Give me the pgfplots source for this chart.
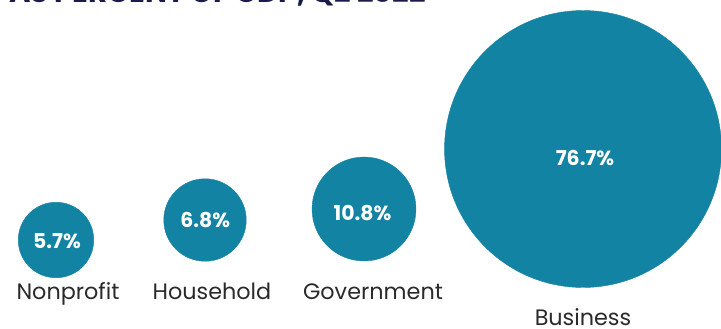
\documentclass[border=0pt]{standalone}
\usepackage{pgfplots}
\pgfplotsset{compat=1.18}
\usepackage{fontspec}
\setmainfont{Poppins}
\definecolor{bub}{HTML}{1383A3}
\definecolor{navy}{HTML}{1B1B4B}
\definecolor{lab}{HTML}{2A2A2A}
\begin{document}
\begin{tikzpicture}[x=1bp,y=1bp]
\path[use as bounding box] (0,0) rectangle (721,328);
\node[anchor=base west, text=navy, font=\bfseries\fontsize{29.2}{29.2}\selectfont, inner sep=0pt] at (9,325.8) {AS PERCENT OF GDP, Q2 2022};
\begin{axis}[at={(0,0)}, anchor=south west, width=721bp, height=328bp, scale only axis,
  xmin=0, xmax=721, ymin=0, ymax=328, y dir=reverse, hide axis, clip=false]
% bubbles: centre x, centre y (pixels from top), value (% of GDP)
\addplot[scatter, only marks, mark=*,
  scatter/use mapped color={draw=bub, fill=bub},
  visualization depends on={15.87*sqrt(\thisrow{v}) \as \rad},
  scatter/@pre marker code/.append style={/tikz/mark size=\rad}]
  table {
x y v
56 240 5.7
205 220 6.8
364 209 10.8
583 149 76.7
};
% value labels
\addplot[draw=none, mark=none, nodes near coords, point meta=explicit symbolic,
  nodes near coords style={anchor=base, inner sep=0pt, text=white, font=\bfseries\fontsize{20.5}{20.5}\selectfont}]
  table[meta=label] {
x y label
57 248.3 5.7\%
205.3 227.3 6.8\%
362.5 220 10.8\%
585 165 76.7\%
};
% category labels
\addplot[draw=none, mark=none, nodes near coords, point meta=explicit symbolic,
  nodes near coords style={anchor=base, inner sep=0pt, text=lab, font=\fontsize{22.4}{22.4}\selectfont}]
  table[meta=label] {
x y label
68 299.5 Nonprofit
212 299.5 Household
373 299.3 Government
583 325.3 Business
};
\end{axis}
\end{tikzpicture}
\end{document}
